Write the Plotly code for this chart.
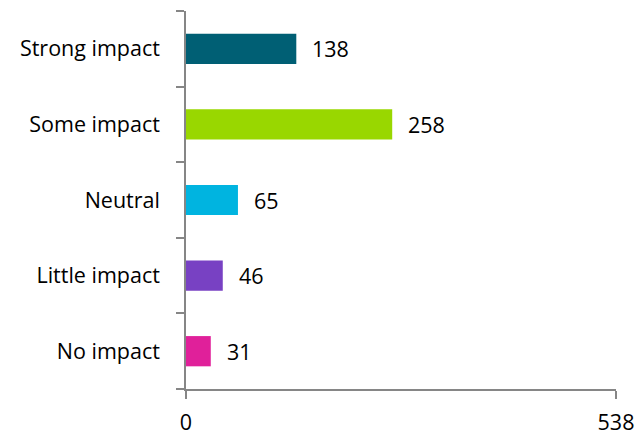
import plotly.graph_objects as go

categories = ["Strong impact", "Some impact", "Neutral", "Little impact", "No impact"]
values = [138, 258, 65, 46, 31]
colors = ["#005F74", "#99D700", "#00B4E0", "#7841C3", "#E0209A"]
x_ticks = [0, 538]

font_family = "'Open Sans', sans-serif"
font_size = 21.5
axis_color = "#868686"

fig = go.Figure()
fig.add_trace(go.Bar(
    y=categories, x=values, orientation="h",
    marker=dict(color=colors, line=dict(width=0)),
    hoverinfo="skip",
))

for c, v in zip(categories, values):
    fig.add_annotation(x=v, y=c, text=str(v), showarrow=False,
                       xanchor="left", yanchor="middle", xshift=14,
                       font=dict(family=font_family, size=font_size, color="#000000"))

fig.update_layout(
    width=638, height=436,
    margin=dict(l=186, r=22, t=11, b=47),
    paper_bgcolor="white", plot_bgcolor="white",
    showlegend=False,
    bargap=0.6,
    font=dict(family=font_family, size=font_size, color="#000000"),
)
fig.update_xaxes(
    range=[0, 538], tickvals=x_ticks, ticktext=[str(t) for t in x_ticks],
    showgrid=True, gridcolor=axis_color, gridwidth=1.5,
    showline=True, linecolor=axis_color, linewidth=1.5,
    ticks="outside", ticklen=8, tickcolor=axis_color, tickwidth=1.5,
    ticklabelstandoff=5, zeroline=False, automargin=False,
    tickfont=dict(family=font_family, size=font_size, color="#000000"),
)
fig.update_yaxes(
    categoryorder="array", categoryarray=categories[::-1],
    showgrid=False, showline=True, linecolor=axis_color, linewidth=1.5,
    ticks="outside", tickson="boundaries", ticklen=8, tickcolor=axis_color, tickwidth=1.5,
    ticklabelstandoff=20, automargin=False,
    tickfont=dict(family=font_family, size=font_size, color="#000000"),
)

fig.write_html("out.html")
